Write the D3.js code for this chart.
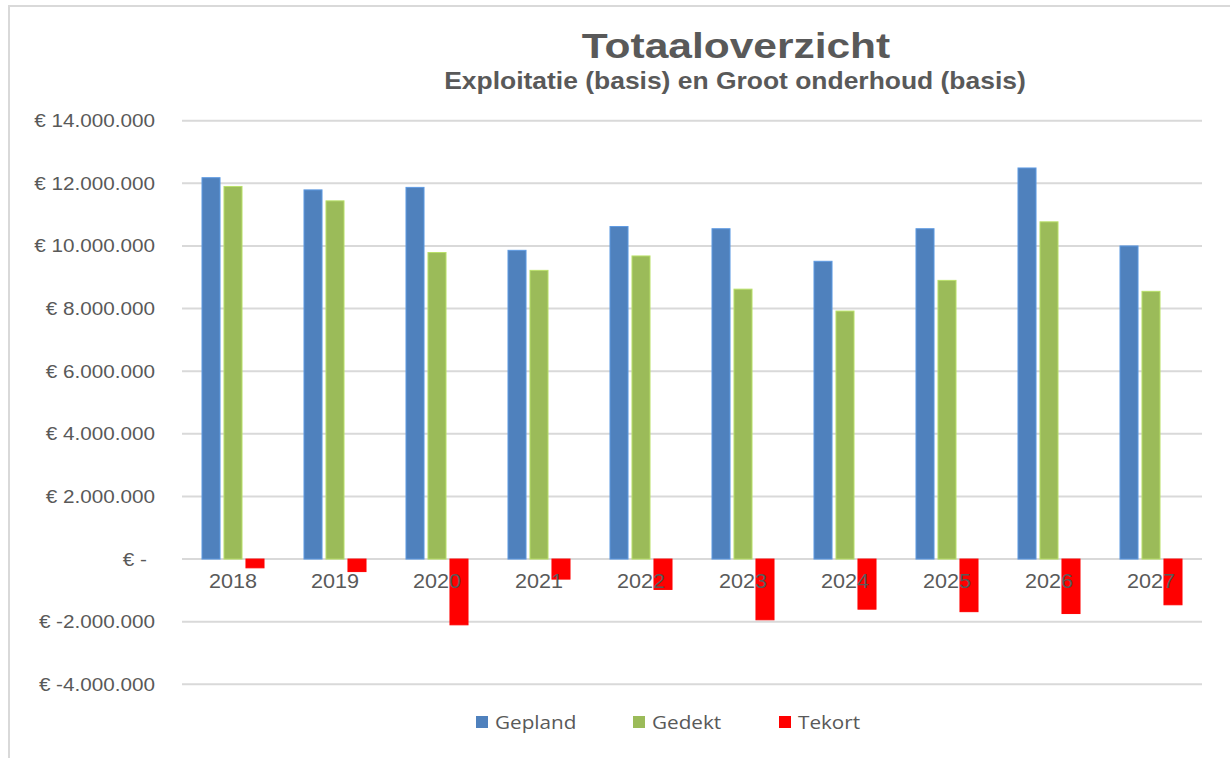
<!DOCTYPE html>
<html>
<head>
<meta charset="utf-8">
<script src="https://cdn.jsdelivr.net/npm/d3@7"></script>
<style>
  body { margin: 0; background: #fff; }
</style>
</head>
<body>
<div id="chart"></div>
<script>
const years = ["2018", "2019", "2020", "2021", "2022", "2023", "2024", "2025", "2026", "2027"];
const gepland = [12180000, 11790000, 11870000, 9860000, 10620000, 10550000, 9510000, 10550000, 12490000, 10000000];
const gedekt = [11900000, 11440000, 9790000, 9220000, 9680000, 8620000, 7920000, 8900000, 10770000, 8550000];
const tekort = [-280000, -400000, -2100000, -640000, -970000, -1940000, -1600000, -1680000, -1740000, -1460000];
const seriesNames = ["Gepland", "Gedekt", "Tekort"];
const seriesColors = ["#4f81bd", "#9bbb59", "#ff0000"];
const yTicks = [-4000000, -2000000, 0, 2000000, 4000000, 6000000, 8000000, 10000000, 12000000, 14000000];

const width = 1230, height = 758;
const textColor = "#595959";
const stretch = 1.15; // text in the original looks a bit wide

const svg = d3.select("#chart").append("svg")
  .attr("width", width)
  .attr("height", height)
  .style("font-family", "'Liberation Sans', Arial, sans-serif");

// chart frame (only top and left visible)
svg.append("path")
  .attr("d", `M9,${height} V6 H${width}`)
  .attr("fill", "none")
  .attr("stroke", "#d9d9d9")
  .attr("stroke-width", 2);

const plot = { left: 182, right: 1202, top: 120.7, bottom: 684.3 };

const y = d3.scaleLinear()
  .domain([-4000000, 14000000])
  .range([plot.bottom, plot.top]);

const x0 = d3.scaleBand()
  .domain(years)
  .range([plot.left, plot.right])
  .paddingInner(0.392)
  .paddingOuter(0.196);

const x1 = d3.scaleBand()
  .domain(seriesNames)
  .range([0, x0.bandwidth()])
  .paddingInner(0.18);

// gridlines
svg.append("g")
  .selectAll("line")
  .data(yTicks)
  .join("line")
    .attr("x1", plot.left)
    .attr("x2", plot.right)
    .attr("y1", d => y(d))
    .attr("y2", d => y(d))
    .attr("stroke", "#d9d9d9")
    .attr("stroke-width", 2);

// y labels
const fmt = d => d === 0 ? "€ -" : "€ " + d3.format(",")(d).replace(/,/g, ".").replace("−", "-");
svg.append("g")
  .selectAll("text")
  .data(yTicks)
  .join("text")
    .attr("transform", d => `translate(${d === 0 ? 147 : 155},${y(d) + 6.5}) scale(${stretch},1)`)
    .attr("text-anchor", "end")
    .attr("font-size", "18px")
    .attr("fill", textColor)
    .text(fmt);

// bars
const seriesData = [gepland, gedekt, tekort];
const groups = svg.append("g")
  .selectAll("g")
  .data(seriesNames)
  .join("g")
    .attr("fill", (d, i) => seriesColors[i]);

groups.selectAll("rect")
  .data((name, si) => seriesData[si].map((v, i) => ({ name, year: years[i], value: v, si })))
  .join("rect")
    .attr("x", d => x0(d.year) + x1(d.name))
    .attr("y", d => y(Math.max(0, d.value)))
    .attr("width", x1.bandwidth())
    .attr("height", d => Math.abs(y(d.value) - y(0)))
    .attr("stroke", d => d3.color(seriesColors[d.si]).brighter(0.5))
    .attr("stroke-width", 1);

// x labels (drawn over the bars, like the original)
svg.append("g")
  .selectAll("text")
  .data(years)
  .join("text")
    .attr("transform", d => `translate(${x0(d) + x0.bandwidth() / 2},${y(0) + 28.5}) scale(1.08,1)`)
    .attr("text-anchor", "middle")
    .attr("font-size", "20px")
    .attr("fill", textColor)
    .text(d => d);

// title
svg.append("text")
  .attr("transform", `translate(736,58.3) scale(1.18,1)`)
  .attr("text-anchor", "middle")
  .attr("font-size", "36px")
  .attr("font-weight", "bold")
  .attr("fill", textColor)
  .text("Totaaloverzicht");

svg.append("text")
  .attr("transform", `translate(735,89) scale(${stretch},1)`)
  .attr("text-anchor", "middle")
  .attr("font-size", "23px")
  .attr("font-weight", "bold")
  .attr("fill", textColor)
  .text("Exploitatie (basis) en Groot onderhoud (basis)");

// legend
const legendX = [476, 633, 779];
const legend = svg.append("g")
  .selectAll("g")
  .data(seriesNames)
  .join("g")
    .attr("transform", (d, i) => `translate(${legendX[i]},716)`);

legend.append("rect")
  .attr("width", 12)
  .attr("height", 12)
  .attr("fill", (d, i) => seriesColors[i]);

legend.append("text")
  .attr("transform", `translate(19,13) scale(${stretch},1)`)
  .attr("font-family", "'Open Sans', sans-serif")
  .attr("font-size", "18px")
  .attr("fill", textColor)
  .text(d => d);
</script>
</body>
</html>
